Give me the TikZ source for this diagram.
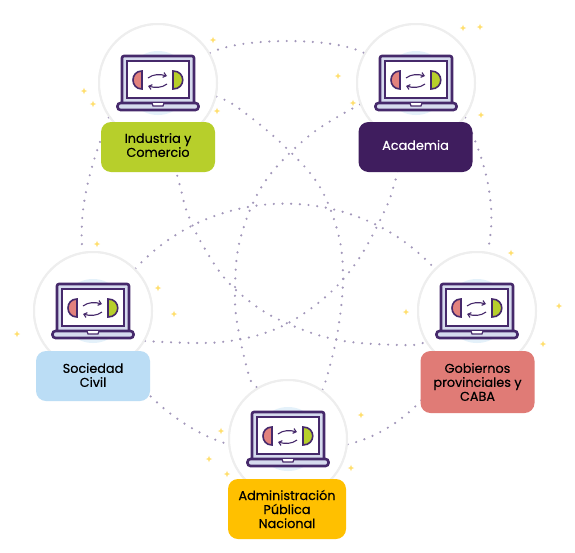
\documentclass[tikz,border=0pt]{standalone}
\usepackage{fontspec}
\setmainfont{Poppins}[FakeBold=0.35]
\definecolor{pur}{HTML}{46296B}
\definecolor{dotc}{HTML}{A297BA}
\definecolor{starc}{HTML}{FFDF6E}
\definecolor{halo}{HTML}{E4F1FA}
\definecolor{lav}{HTML}{D6DBEE}
\definecolor{ringc}{HTML}{EEEEEE}
\definecolor{cgreen}{HTML}{B7CF2B}
\definecolor{cpurple}{HTML}{3F1D5E}
\definecolor{cblue}{HTML}{BBDDF5}
\definecolor{cred}{HTML}{E07B76}
\definecolor{cyellow}{HTML}{FFC000}
\tikzset{
  ring/.style={circle,draw=ringc,line width=2pt,fill=white,minimum size=118pt,inner sep=0pt},
  lab/.style={rounded corners=10pt,minimum width=114pt,align=center,inner sep=0pt,font=\fontsize{12.8}{14}\selectfont,text=black},
  link/.style={draw=dotc,line width=2.4pt,line cap=round,dash pattern=on 0pt off 8.7pt},
  lap/.pic={
    \fill[halo] (0,0) circle (32);
    \draw[pur,line width=2.6pt,fill=lav,rounded corners=2pt] (-36,22) -- (-36,-27) -- (36,-27) -- (36,22);
    \draw[pur,line width=1.2pt,fill=white] (-31,-22) rectangle (31,15);
    \fill[lav] (-31,15.6) rectangle (31,20);
    \draw[pur,line width=2.6pt,fill=lav,rounded corners=3pt] (-40.5,20) rectangle (40.5,27);
    \draw[pur,line width=1.2pt,fill=white] (-6,20) -- (-5,23) -- (5,23) -- (6,20);
    \draw[pur,line width=1.6pt,fill=cred!95!white] (-16,-12) .. controls (-28,-12) and (-28,6) .. (-16,6) -- cycle;
    \draw[pur,line width=1.6pt,fill=cgreen] (15,-12) .. controls (28,-12) and (28,6) .. (15,6) -- cycle;
    \draw[pur,line width=1.1pt,-{Straight Barb[length=3pt,width=5pt]}] (-10,-5) .. controls (-5,-9) and (2,-9) .. (9,-7);
    \draw[pur,line width=1.1pt,-{Straight Barb[length=3pt,width=5pt]}] (9,1) .. controls (4,5) and (-3,5) .. (-10,3);
  },
}
\usetikzlibrary{arrows.meta}
\begin{document}
\begin{tikzpicture}[x=1pt,y=-1pt]
\useasboundingbox (0,0) rectangle (575,552);
\fill[white] (0,0) rectangle (575,552);
% nodes
\node[ring] (ind) at (158,83) {};
\node[ring] (aca) at (416,83) {};
\node[ring] (soc) at (93,311) {};
\node[ring] (gob) at (477,311) {};
\node[ring] (adm) at (288,439) {};
% connectors
\path[link] (ind.30) .. controls (240,37) and (335,37) .. (aca.150);
\path[link] (ind.215) .. controls (97,150) and (77,200) .. (soc.100);
\path[link] (aca.-35) .. controls (480,150) and (500,200) .. (gob.80);
\path[link] (soc.-60) .. controls (140,390) and (180,430) .. (adm.185);
\path[link] (adm.-5) .. controls (390,435) and (430,400) .. (gob.240);
\path[link] (soc.45) .. controls (215,182) and (355,182) .. (gob.135);
\path[link] plot[smooth,tension=.6] coordinates {(soc.-30) (195,343) (230,341) (265,333) (297,318) (332,291) (360,257) (385,210) (394,185) (aca.-100)};
\path[link] plot[smooth,tension=.6] coordinates {(ind.-80) (180,186) (187,212) (202,244) (227,281) (260,309) (291,325) (325,337) (360,343) (413,345) (gob.210)};
\path[link] plot[smooth,tension=.6] coordinates {(ind.-13) (237,107) (280,142) (318,184) (338,233) (343,278) (338,330) (328,373) (adm.55)};
\path[link] plot[smooth,tension=.6] coordinates {(aca.201) (310,135) (264,183) (240,240) (235,293) (238,328) (250,379) (adm.120)};
% redraw discs above connector ends
\foreach \c in {ind,aca,soc,gob,adm}{\fill[white] (\c) circle (58);\draw[ringc,line width=2pt] (\c) circle (59);}
% laptops
\foreach \c in {ind,aca,soc,gob,adm}{\pic at (\c) {lap};}
% labels
\node[lab,fill=cgreen,minimum height=50pt,text depth=4pt] (lind) at (158,147) {Industria y\\Comercio};
\node[lab,fill=cpurple,text=white,minimum height=50pt,text depth=4pt] (laca) at (415.5,147) {Academia};
\node[lab,fill=cblue,minimum height=50pt,text depth=2pt] (lsoc) at (93,376) {Sociedad\\Civil};
\node[lab,fill=cred,minimum height=62pt] (lgob) at (477.5,382) {Gobiernos\\provinciales y\\CABA};
\node[lab,fill=cyellow,minimum width=118pt,minimum height=60pt] (ladm) at (287,509) {Administración\\Pública\\Nacional};
% stars
\foreach \x/\y in {213/40,217/111,93/104,84/91,463/28,480/27,338/76,353/103,481/115,97/244,158/288,174/314,406/312,511/253,559/306,543/344,17/334,221/431,209/459,227/474,361/415,351/468}{
  \fill[starc] (\x-3.2,\y) .. controls (\x-.6,\y-.6) .. (\x,\y-3.2) .. controls (\x+.6,\y-.6) .. (\x+3.2,\y) .. controls (\x+.6,\y+.6) .. (\x,\y+3.2) .. controls (\x-.6,\y+.6) .. cycle;
}
\end{tikzpicture}
\end{document}
